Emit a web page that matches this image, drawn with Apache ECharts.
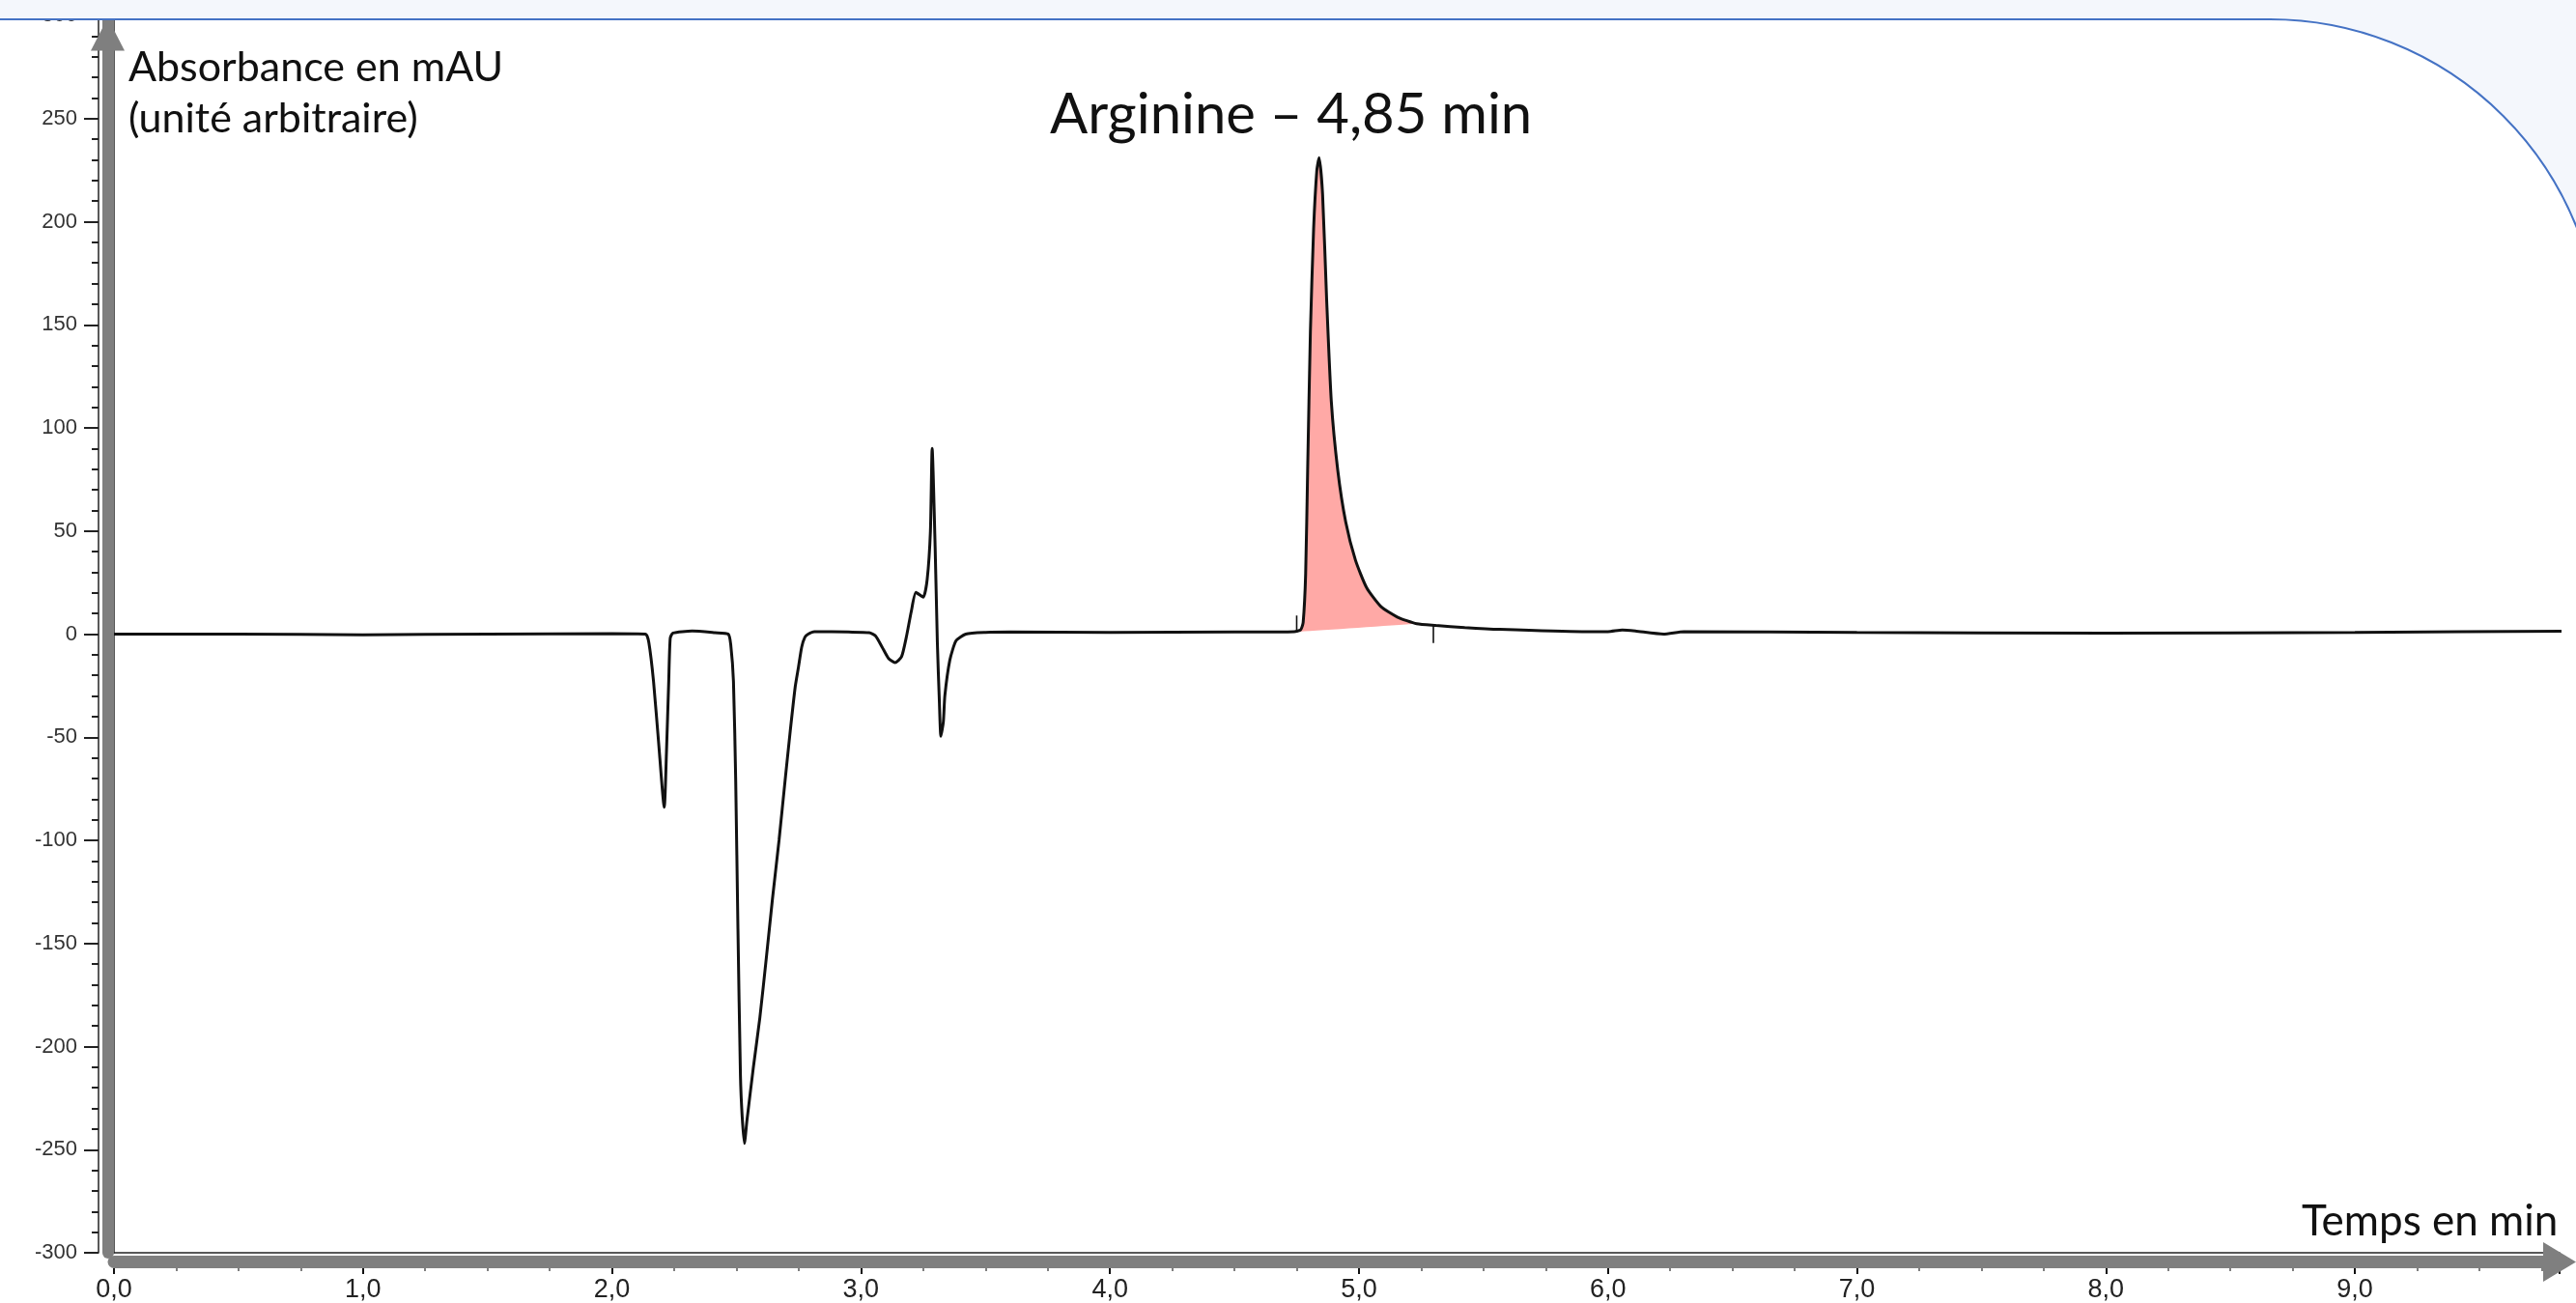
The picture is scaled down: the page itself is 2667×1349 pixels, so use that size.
<!DOCTYPE html>
<html>
<head>
<meta charset="utf-8">
<script src="https://cdn.jsdelivr.net/npm/echarts@6/dist/echarts.min.js"></script>
<style>
  html, body { margin: 0; padding: 0; background: #f4f7fc; }
  #chrom { width: 2667px; height: 1349px; }
</style>
</head>
<body>
<div id="chrom"></div>
<script>
// chromatogramme : temps (min) / absorbance (mAU)
var temps = [0, 0.5, 1.0, 1.5, 2.0, 2.135, 2.148, 2.167, 2.187, 2.210, 2.219, 2.228, 2.234, 2.245, 2.322, 2.413,
  2.467, 2.477, 2.488, 2.497, 2.506, 2.516, 2.523, 2.532, 2.542, 2.568, 2.594, 2.620, 2.645, 2.671, 2.697, 2.716,
  2.736, 2.749, 2.762, 2.775, 2.788, 2.813, 2.95, 3.033, 3.059, 3.085, 3.111, 3.137, 3.163, 3.182, 3.202, 3.221,
  3.250, 3.266, 3.279, 3.286, 3.298, 3.307, 3.315, 3.321, 3.331, 3.337, 3.357, 3.382, 3.421, 3.5, 3.6, 4.0, 4.5,
  4.74, 4.766, 4.776, 4.786, 4.794, 4.805, 4.818, 4.831, 4.840, 4.854, 4.870, 4.889, 4.915, 4.947, 4.986, 5.031,
  5.089, 5.154, 5.232, 5.309, 5.425, 5.566, 5.896, 6.000, 6.058, 6.110, 6.223, 6.305, 7.0, 8.0, 9.0, 9.89];
var absorbance = [0, 0, -0.3, 0, 0.2, 0, -4, -23, -52, -84, -57, -23, -2, 0.5, 1.5, 0.7,
  0, -5, -23, -71, -143, -214, -234, -247, -236, -210, -186, -157, -128, -100, -69, -47,
  -25.5, -16, -6.3, -1.5, 0, 1.2, 1.0, 0.7, -0.9, -6.3, -11.8, -13.8, -11, -1.6, 10.9, 20.2,
  17.9, 26.5, 49.9, 90, 42, -4.8, -33, -49.5, -42.4, -29.8, -12.6, -3.2, 0, 0.8, 1.0, 0.8, 1.0,
  1.2, 2.1, 5.7, 29.2, 79.4, 146.4, 196.6, 225, 231, 213.3, 163.1, 112.9, 79.4, 54.3, 35.9, 22.5,
  13.3, 8.3, 5.0, 4.2, 3.2, 2.3, 1.2, 1.2, 2.0, 1.5, 0, 1.2, 0.8, 0.5, 0.8, 1.5];

// integration du pic (arginine) : debut / fin de la ligne de base
var picDebut = [4.762, 1.2];
var picFin = [5.232, 5.0];
// petits traits d'integration
var marquesT = [4.750, 5.299];
var marquesBas = [0.7, -4.3];
var marquesHaut = [9, 4];

var xTickLabels = ['0,0', '1,0', '2,0', '3,0', '4,0', '5,0', '6,0', '7,0', '8,0', '9,0'];

var xMax = 9.822;
var gris = '#7f7f7f';

var trace = temps.map(function (t, i) { return [t, absorbance[i]]; });

// contour de l'aire coloree : la courbe puis la ligne de base
var aire = trace.filter(function (p) { return p[0] >= picDebut[0] && p[0] <= picFin[0]; });
aire.push(picFin);
aire.push(picDebut);

var chart = echarts.init(document.getElementById('chrom'));

var xCommon = { type: 'value', min: 0, max: xMax, interval: 1, position: 'bottom', splitLine: { show: false } };
var yCommon = { type: 'value', min: -300, max: 300, interval: 50, position: 'left', splitLine: { show: false } };

option = {
  backgroundColor: '#f4f7fc',
  animation: false,
  grid: { left: 118, right: 17, top: 16, bottom: 52 },
  xAxis: [
    // cadre du chromatogramme
    Object.assign({}, xCommon, {
      axisLine: { onZero: false, lineStyle: { color: '#222', width: 1.5 } },
      axisTick: { show: false }, axisLabel: { show: false }
    }),
    // graduations + libelles
    Object.assign({}, xCommon, {
      offset: 16,
      axisLine: { show: false, onZero: false },
      axisTick: { length: 6, lineStyle: { color: '#111', width: 2 } },
      minorTick: { show: true, splitNumber: 4, length: 3, lineStyle: { color: '#555', width: 1.5 } },
      axisLabel: {
        margin: 9, fontSize: 27, fontFamily: 'Liberation Sans', color: '#222', showMaxLabel: false,
        formatter: function (v) { return xTickLabels[Math.round(v)] || ''; }
      }
    }),
    // fleche grise
    Object.assign({}, xCommon, {
      offset: 9.5, z: 3,
      axisLine: { onZero: false, symbol: ['none', 'triangle'], symbolSize: [41, 34],
        lineStyle: { color: gris, width: 13 } },
      axisTick: { show: false }, axisLabel: { show: false }
    })
  ],
  yAxis: [
    Object.assign({}, yCommon, {
      axisLine: { onZero: false, lineStyle: { color: '#222', width: 1.5 } },
      axisTick: { show: false }, axisLabel: { show: false }
    }),
    Object.assign({}, yCommon, {
      offset: 16,
      axisLine: { onZero: false, lineStyle: { color: '#222', width: 1.5 } },
      axisTick: { length: 15, lineStyle: { color: '#222', width: 2 } },
      minorTick: { show: true, splitNumber: 5, length: 7, lineStyle: { color: '#222', width: 2 } },
      axisLabel: { margin: 22, fontSize: 22, fontFamily: 'Liberation Sans', color: '#333' }
    }),
    Object.assign({}, yCommon, {
      offset: 6.5, z: 3,
      axisLine: { onZero: false, symbol: ['none', 'triangle'], symbolSize: [35, 34], symbolOffset: [0, -19.5],
        lineStyle: { color: gris, width: 12 } },
      axisTick: { show: false }, axisLabel: { show: false }
    })
  ],
  series: [
    {
      type: 'custom',
      z: 1,
      data: [picDebut],
      renderItem: function (params, api) {
        return {
          type: 'polygon',
          shape: { points: aire.map(function (p) { return api.coord(p); }), smooth: 0.2 },
          style: { fill: '#ffa9a6' }
        };
      }
    },
    {
      type: 'line',
      data: trace,
      showSymbol: false,
      clip: false,
      smooth: 0.2,
      lineStyle: { color: '#111', width: 3 },
      z: 2
    },
    {
      type: 'line', showSymbol: false, lineStyle: { color: '#111', width: 1.6 },
      data: [[marquesT[0], marquesBas[0]], [marquesT[0], marquesHaut[0]]]
    },
    {
      type: 'line', showSymbol: false, lineStyle: { color: '#111', width: 1.6 },
      data: [[marquesT[1], marquesBas[1]], [marquesT[1], marquesHaut[1]]]
    }
  ],
  graphic: [
    { type: 'rect', z: -10, shape: { x: -20, y: 20, width: 2712, height: 1400, r: [0, 342, 0, 0] },
      style: { fill: '#ffffff', stroke: '#4472c4', lineWidth: 2 } },
    { type: 'rect', z: 100, shape: { x: 0, y: 0, width: 2360, height: 19 }, style: { fill: '#f4f7fc' } },
    { type: 'line', z: 100, shape: { x1: 0, y1: 20, x2: 2352, y2: 20 }, style: { stroke: '#4472c4', lineWidth: 2 } },
    { type: 'text', z: 100, x: 133, y: 97, style: { text: 'Absorbance en mAU\n(unité arbitraire)',
      fontSize: 43, fontFamily: 'Lato', fill: '#111', verticalAlign: 'middle', lineHeight: 53 } },
    { type: 'text', z: 100, x: 1087, y: 119, style: { text: 'Arginine – 4,85 min',
      fontSize: 58, fontFamily: 'Lato', fill: '#111', verticalAlign: 'middle' } },
    { type: 'text', z: 100, x: 2383, y: 1265, style: { text: 'Temps en min',
      fontSize: 44, fontFamily: 'Lato', fill: '#111', verticalAlign: 'middle' } }
  ]
};
chart.setOption(option);
</script>
</body>
</html>
